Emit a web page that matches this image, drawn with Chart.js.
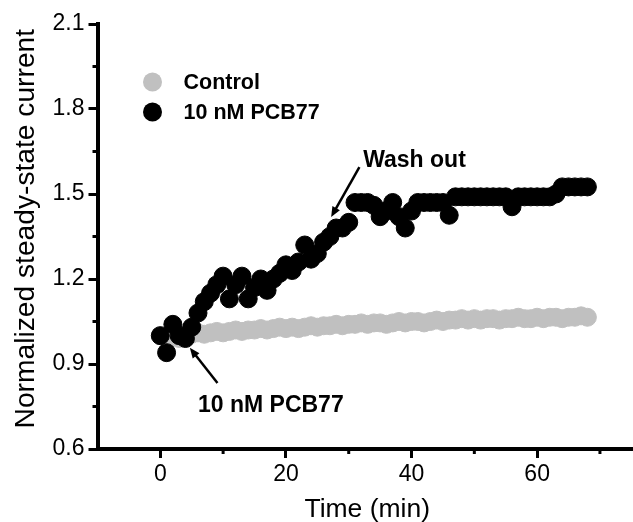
<!DOCTYPE html>
<html>
<head>
<meta charset="utf-8">
<script src="https://cdn.jsdelivr.net/npm/chart.js@4.4.0/dist/chart.umd.min.js"></script>
<style>
  html, body { margin: 0; padding: 0; background: #fff; overflow: hidden; }
  #wrap { width: 633px; height: 522px; overflow: hidden; }
</style>
</head>
<body>
<div id="wrap"><canvas id="chart" width="647" height="522"></canvas></div>
<script>
// sample times (min)
const timeMin = [
  0, 1, 2, 3, 4, 5, 6, 7, 8, 9, 10, 11, 12, 13, 14, 15, 16, 17, 18, 19,
  20, 21, 22, 23, 24, 25, 26, 27, 28, 29, 30, 31, 32, 33, 34, 35, 36, 37, 38, 39,
  40, 41, 42, 43, 44, 45, 46, 47, 48, 49, 50, 51, 52, 53, 54, 55, 56, 57, 58, 59,
  60, 61, 62, 63, 64, 65, 66, 67, 68
];

const controlValues = [
  1.00, 0.99, 0.995, 0.99, 1.00, 1.005, 1.01, 1.005, 1.01, 1.015,
  1.01, 1.015, 1.02, 1.015, 1.02, 1.02, 1.025, 1.02, 1.025, 1.03,
  1.025, 1.03, 1.025, 1.03, 1.035, 1.03, 1.035, 1.035, 1.04, 1.035,
  1.04, 1.04, 1.045, 1.04, 1.045, 1.045, 1.04, 1.045, 1.05, 1.045,
  1.05, 1.05, 1.045, 1.05, 1.055, 1.05, 1.055, 1.055, 1.06, 1.055,
  1.06, 1.055, 1.06, 1.06, 1.055, 1.06, 1.06, 1.065, 1.06, 1.06,
  1.065, 1.06, 1.065, 1.065, 1.06, 1.065, 1.065, 1.07, 1.065
];

const pcbValues = [
  1.00, 0.94, 1.04, 1.00, 0.99, 1.03, 1.08, 1.12, 1.15, 1.18,
  1.21, 1.13, 1.18, 1.21, 1.13, 1.17, 1.20, 1.16, 1.20, 1.22,
  1.25, 1.23, 1.26, 1.32, 1.27, 1.29, 1.33, 1.35, 1.38, 1.38,
  1.40, 1.47, 1.47, 1.47, 1.46, 1.42, 1.44, 1.47, 1.42, 1.38,
  1.44, 1.47, 1.47, 1.47, 1.47, 1.47, 1.425, 1.49, 1.49, 1.49,
  1.49, 1.49, 1.49, 1.49, 1.49, 1.49, 1.455, 1.49, 1.49, 1.49,
  1.49, 1.49, 1.49, 1.50, 1.525, 1.525, 1.525, 1.525, 1.525
];

const xTickLabels = [0, 20, 40, 60];
const yTickLabels = [0.6, 0.9, 1.2, 1.5, 1.8, 2.1];

const FONT = '"Liberation Sans", Arial, sans-serif';
const GREY = '#c0c0c0';

// arrows + text, in data units
const notes = [
  { text: 'Wash out', at: [32.3, 1.595], from: [31.7, 1.595], to: [27.2, 1.419] },
  { text: '10 nM PCB77', at: [6.0, 0.731], from: [9.1, 0.833], to: [4.7, 0.957] }
];

function toPoints(values) {
  return values.map((y, i) => ({ x: timeMin[i], y }));
}

function isLabeled(list, v) {
  return list.some((l) => Math.abs(l - v) < 1e-6);
}

function drawArrow(ctx, x1, y1, x2, y2) {
  const ang = Math.atan2(y2 - y1, x2 - x1);
  const head = 11;
  ctx.beginPath();
  ctx.moveTo(x1, y1);
  ctx.lineTo(x2 - Math.cos(ang) * head * 0.8, y2 - Math.sin(ang) * head * 0.8);
  ctx.stroke();
  ctx.beginPath();
  ctx.moveTo(x2, y2);
  ctx.lineTo(x2 - head * Math.cos(ang - 0.4), y2 - head * Math.sin(ang - 0.4));
  ctx.lineTo(x2 - head * Math.cos(ang + 0.4), y2 - head * Math.sin(ang + 0.4));
  ctx.closePath();
  ctx.fill();
}

const extras = {
  id: 'extras',
  afterDraw(chart) {
    const { ctx, chartArea } = chart;
    const xs = chart.scales.x;
    const ys = chart.scales.y;
    ctx.save();

    // minor tick marks
    ctx.strokeStyle = '#000';
    ctx.lineWidth = 3;
    xs.ticks.forEach((t) => {
      if (isLabeled(xTickLabels, t.value) || t.value <= xs.min) return;
      const px = xs.getPixelForValue(t.value);
      ctx.beginPath();
      ctx.moveTo(px, chartArea.bottom);
      ctx.lineTo(px, chartArea.bottom + 5);
      ctx.stroke();
    });
    ys.ticks.forEach((t) => {
      if (isLabeled(yTickLabels, t.value)) return;
      const py = ys.getPixelForValue(t.value);
      ctx.beginPath();
      ctx.moveTo(chartArea.left, py);
      ctx.lineTo(chartArea.left - 5, py);
      ctx.stroke();
    });

    // arrows and notes
    ctx.fillStyle = '#000';
    ctx.lineWidth = 2.5;
    ctx.font = 'bold 23px ' + FONT;
    ctx.textBaseline = 'alphabetic';
    ctx.textAlign = 'left';
    notes.forEach((n) => {
      ctx.fillText(n.text, xs.getPixelForValue(n.at[0]), ys.getPixelForValue(n.at[1]));
      drawArrow(ctx,
        xs.getPixelForValue(n.from[0]), ys.getPixelForValue(n.from[1]),
        xs.getPixelForValue(n.to[0]), ys.getPixelForValue(n.to[1]));
    });

    // legend
    const lx = chartArea.left + 55;
    const ly = chartArea.top + 58;
    ctx.font = 'bold 21.5px ' + FONT;
    chart.data.datasets.forEach((ds, i) => {
      const cy = ly + i * 30;
      ctx.fillStyle = ds.backgroundColor;
      ctx.beginPath();
      ctx.arc(lx, cy, 9.5, 0, Math.PI * 2);
      ctx.fill();
      ctx.fillStyle = '#000';
      ctx.fillText(ds.label, lx + 31, cy + 7);
    });
    ctx.restore();
  }
};

const canvas = document.querySelector('#chart');

new Chart(canvas, {
  type: 'scatter',
  data: {
    datasets: [
      {
        label: 'Control',
        data: toPoints(controlValues),
        backgroundColor: GREY,
        borderColor: GREY,
        borderWidth: 1,
        pointRadius: 9,
        order: 2
      },
      {
        label: '10 nM PCB77',
        data: toPoints(pcbValues),
        backgroundColor: '#000',
        borderColor: '#000',
        borderWidth: 1,
        pointRadius: 9,
        order: 1
      }
    ]
  },
  options: {
    responsive: false,
    animation: false,
    events: [],
    layout: { padding: { left: 9.5, right: 0, top: 24, bottom: 0 } },
    plugins: {
      legend: { display: false },
      tooltip: { enabled: false }
    },
    scales: {
      x: {
        type: 'linear',
        min: -10,
        max: 75.9,
        afterFit: (s) => { s.height = 73; },
        ticks: {
          stepSize: 10,
          includeBounds: false,
          autoSkip: false,
          maxRotation: 0,
          padding: 3,
          color: '#000',
          font: { family: FONT, size: 23 },
          callback: (v) => (isLabeled(xTickLabels, v) ? String(v) : '')
        },
        grid: {
          drawOnChartArea: false,
          tickLength: 9,
          tickWidth: 3,
          tickColor: (c) => (c.tick && isLabeled(xTickLabels, c.tick.value) ? '#000' : 'rgba(0,0,0,0)')
        },
        border: { color: '#000', width: 4 },
        title: {
          display: true,
          text: 'Time (min)',
          color: '#000',
          padding: 0,
          font: { family: FONT, size: 26.5, lineHeight: 0.9 }
        }
      },
      y: {
        min: 0.6,
        max: 2.1,
        afterFit: (s) => { s.width = 88; },
        ticks: {
          stepSize: 0.15,
          autoSkip: false,
          padding: 4,
          color: '#000',
          font: { family: FONT, size: 23 },
          callback: (v) => (isLabeled(yTickLabels, v) ? v.toFixed(1) : '')
        },
        grid: {
          drawOnChartArea: false,
          tickLength: 9,
          tickWidth: 3,
          tickColor: (c) => (c.tick && isLabeled(yTickLabels, c.tick.value) ? '#000' : 'rgba(0,0,0,0)')
        },
        border: { color: '#000', width: 4 },
        title: {
          display: true,
          text: '\u00A0\u00A0Normalized steady-state current',
          color: '#000',
          padding: 0,
          font: { family: FONT, size: 28.2, lineHeight: 1.2 }
        }
      }
    }
  },
  plugins: [extras]
});
</script>
</body>
</html>
